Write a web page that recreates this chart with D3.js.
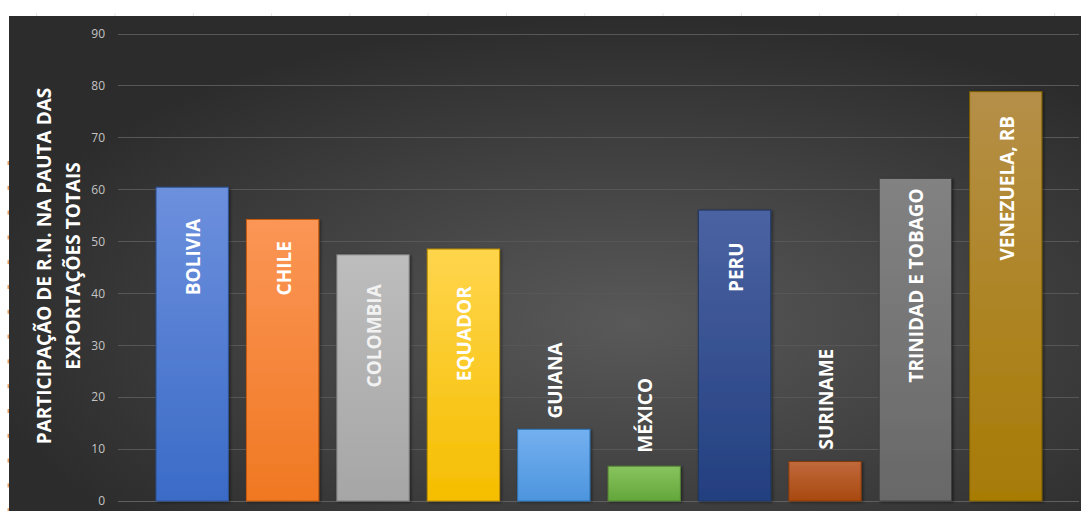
<!DOCTYPE html>
<html>
<head>
<meta charset="utf-8">
<script src="https://cdn.jsdelivr.net/npm/d3@7"></script>
<style>
html,body{margin:0;padding:0;background:#fff;}
svg{display:block;}
</style>
</head>
<body>
<svg id="chart" width="1081" height="511"></svg>
<script>
const categories = ["BOLIVIA","CHILE","COLOMBIA","EQUADOR","GUIANA","MÉXICO","PERU","SURINAME","TRINIDAD E TOBAGO","VENEZUELA, RB"];
const values = [60.4, 54.2, 47.4, 48.5, 13.8, 6.7, 56.0, 7.6, 62.1, 78.8];
const labelAt = [47.0, 44.8, 31.8, 32.2, 23.2, 16.5, 45.0, 19.6, 41.5, 60.2];
const yTicks = [0,10,20,30,40,50,60,70,80,90];
const yTitle = ["PARTICIPAÇÃO DE R.N. NA PAUTA DAS", "EXPORTAÇÕES TOTAIS"];
const colorTop = ["#6d90dd","#fb9656","#bdbdbd","#ffd54c","#74b0f0","#88c45e","#4b63a2","#c0693c","#828282","#b58f48"];
const colorBot = ["#3a6bc7","#f07822","#a6a6a6","#f5be00","#4d95dd","#63a63a","#233f7f","#a8490f","#686868","#a77b05"];
const colorStroke = ["#2f5597","#c55a11","#7f7f7f","#bf9000","#2e75b6","#548235","#1f3864","#843c0c","#404040","#7f6000"];

const svg = d3.select("#chart");
const W = 1081, H = 511;
const defs = svg.append("defs");

const bg = defs.append("radialGradient").attr("id","bg").attr("cx","58%").attr("cy","62%").attr("r","62%");
bg.append("stop").attr("offset","0%").attr("stop-color","#595959");
bg.append("stop").attr("offset","100%").attr("stop-color","#2c2c2c");

categories.forEach((c,i)=>{
  const g = defs.append("linearGradient").attr("id","g"+i).attr("x1",0).attr("y1",0).attr("x2",0).attr("y2",1);
  g.append("stop").attr("offset","0%").attr("stop-color",colorTop[i]);
  g.append("stop").attr("offset","100%").attr("stop-color",colorBot[i]);
});
const sh = defs.append("filter").attr("id","shadow").attr("x","-20%").attr("y","-20%").attr("width","140%").attr("height","140%");
sh.append("feDropShadow").attr("dx",1.5).attr("dy",1).attr("stdDeviation",1.5).attr("flood-color","#000").attr("flood-opacity",0.45);

// white surround with sheet marks
svg.append("rect").attr("x",0).attr("y",0).attr("width",W).attr("height",H).attr("fill","#fff");
for (let x = 36.7; x < W; x += 78.3) {
  svg.append("line").attr("x1",x).attr("x2",x).attr("y1",13).attr("y2",16).attr("stroke","#e6e6e6").attr("stroke-width",1);
}
for (let y = 163; y < H; y += 24.8) {
  svg.append("rect").attr("x",7.5).attr("y",y-2).attr("width",1.5).attr("height",4).attr("fill","#eaa060");
}

// panel
svg.append("rect").attr("x",9).attr("y",16).attr("width",W-9).attr("height",H-16).attr("fill","url(#bg)");

const y = d3.scaleLinear().domain([0,90]).range([501,33.5]);
const x = d3.scaleBand().domain(categories).range([119,1079]).paddingInner(0.2).paddingOuter(0.41);

// gridlines
svg.append("g").selectAll("line").data(yTicks).join("line")
  .attr("x1",118).attr("x2",1079)
  .attr("y1",d=>Math.round(y(d))+0.5).attr("y2",d=>Math.round(y(d))+0.5)
  .attr("stroke",d=>d===0?"#5f5f5f":"#575757").attr("stroke-width",1);

// y axis labels
const yAxis = d3.axisLeft(y).tickValues(yTicks).tickSize(0).tickPadding(0);
const ya = svg.append("g").attr("transform","translate(105,0)").call(yAxis);
ya.select(".domain").remove();
ya.selectAll("text").attr("font-family","'Open Sans', sans-serif").attr("font-size",12).attr("fill","#c4c4c4");

// bars
svg.append("g").selectAll("rect").data(values).join("rect")
  .attr("x",(d,i)=>x(categories[i]))
  .attr("width",x.bandwidth())
  .attr("y",d=>y(d))
  .attr("height",d=>y(0)-y(d))
  .attr("fill",(d,i)=>"url(#g"+i+")")
  .attr("stroke",(d,i)=>colorStroke[i]).attr("stroke-width",1)
  .attr("filter","url(#shadow)");

// labels
svg.append("g").selectAll("text").data(categories).join("text")
  .attr("transform",(d,i)=>`translate(${x(d)+x.bandwidth()/2+8},${y(labelAt[i])}) rotate(-90)`)
  .attr("text-anchor","middle")
  .attr("font-family","'Open Sans', sans-serif").attr("font-weight",700).attr("font-size",19)
  .attr("fill",(d,i)=> i===2 ? "#f2f2f2" : "#ffffff")
  .text(d=>d);

// y title
const t = svg.append("text")
  .attr("transform","translate(51,266) rotate(-90)")
  .attr("text-anchor","middle")
  .attr("font-family","'Open Sans', sans-serif").attr("font-weight",700).attr("font-size",19)
  .attr("fill","#ffffff");
t.append("tspan").attr("x",0).attr("dy",0).text(yTitle[0]);
t.append("tspan").attr("x",0).attr("dy",29).text(yTitle[1]);
</script>
</body>
</html>
